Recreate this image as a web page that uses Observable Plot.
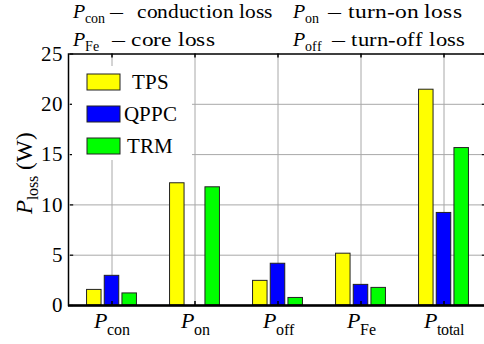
<!DOCTYPE html>
<html><head><meta charset="utf-8">
<script src="https://cdn.jsdelivr.net/npm/d3@7"></script>
<script src="https://cdn.jsdelivr.net/npm/@observablehq/plot@0.6"></script>
<style>
@font-face{font-family:"RefSerif";font-style:normal;font-weight:400;src:local("Liberation Serif"),local("LiberationSerif"),local("LiberationSerif-Regular"),local("Liberation Serif Regular"),local("DejaVu Serif"),local("DejaVuSerif")}
@font-face{font-family:"RefSerif";font-style:italic;font-weight:400;src:local("Liberation Serif Italic"),local("LiberationSerif-Italic"),local("DejaVu Serif Italic"),local("DejaVuSerif-Italic")}
html,body{margin:0;padding:0;background:#fff;overflow:hidden}
#wrap{width:484px;height:344px;overflow:hidden;position:relative;background:#fff}
#wrap svg{max-width:none !important;width:490px;height:344px}
#wrap svg text, #wrap svg tspan{font-family:"RefSerif","Liberation Serif","DejaVu Serif",serif !important}
</style></head><body><div id="wrap"></div>
<script>
// ---- data ----
const categories = ["con", "on", "off", "Fe", "total"];
const series = ["TPS", "QPPC", "TRM"];
const colors = ["#ffff00", "#0000ff", "#00ff00"];
const TPS  = [1.55, 12.15, 2.45, 5.15, 21.45];
const QPPC = [2.95, 0,     4.15, 2.05, 9.2];
const TRM  = [1.2,  11.75, 0.75, 1.75, 15.65];
const yTicks = [0, 5, 10, 15, 20, 25];
const yLabel = {main: "P", sub: "loss", unit: " (W)"};
const notes = [
  {sub: "con", text: "conduction loss"},
  {sub: "on", text: "turn-on loss"},
  {sub: "Fe", text: "core loss"},
  {sub: "off", text: "turn-off loss"}
];

// ---- layout ----
const W = 490, H = 344, mL = 68, mR = 3, mT = 53.5, mB = 39;
const bw = (W - mL - mR) / categories.length;
const innerH = H - mT - mB;
const barW = 15.3, step = 17.7;
const values = [TPS, QPPC, TRM];
const rows = series.map((s, k) => categories.map((c, i) => ({category: c, series: s, value: values[k][i]})));

const chart = Plot.plot({
  width: W, height: H,
  marginLeft: mL, marginRight: mR, marginTop: mT, marginBottom: mB,
  x: {type: "band", domain: categories, padding: 0},
  y: {domain: [0, 25]},
  marks: [
    Plot.gridY(yTicks.filter(t => t > 0 && t < 25), {stroke: "#a8a8a8", strokeOpacity: 1, strokeWidth: 1}),
    Plot.gridX(categories, {stroke: "#a8a8a8", strokeOpacity: 1, strokeWidth: 1}),
    ...rows.map((r, k) => {
      const c = bw / 2 + (k - 1) * step;
      return Plot.barY(r, {x: "category", y: "value", fill: colors[k], stroke: "#222", strokeWidth: 1,
        insetLeft: c - barW / 2, insetRight: bw - c - barW / 2});
    }),
    Plot.tickY(yTicks, {y: d => d, x: () => categories[0], insetRight: bw - 4, stroke: "#000", strokeWidth: 1.2}),
    Plot.tickY(yTicks, {y: d => d, x: () => categories[categories.length - 1], insetLeft: bw - 4, stroke: "#000", strokeWidth: 1.2}),
    Plot.tickX(categories, {x: d => d, insetTop: innerH - 4, stroke: "#000", strokeWidth: 1.5}),
    Plot.tickX(categories, {x: d => d, insetBottom: innerH - 4, stroke: "#000", strokeWidth: 1.5}),
    Plot.frame({stroke: "#000", strokeWidth: 1.5}),
    Plot.ruleY([0], {stroke: "#000", strokeWidth: 2.5}),
    Plot.axisY(yTicks, {tickSize: 0, tickPadding: 6, fontSize: 21, label: null, fill: "#000"}),
    Plot.axisX(categories, {tickSize: 0, tickPadding: 6.5, fontSize: 22, label: null, fill: "#000", tickFormat: d => d})
  ]
});
chart.style.background = "white";
document.getElementById("wrap").appendChild(chart);

const svg = d3.select(chart);

// category labels: italic P with subscript
svg.selectAll('g[aria-label="x-axis tick label"] text').each(function() {
  const t = d3.select(this);
  const s = t.text();
  t.text("");
  t.append("tspan").attr("font-style", "italic").text("P");
  t.append("tspan").attr("font-size", 16).attr("dy", 7).text(s);
});

// y label
const yl = svg.append("text")
  .attr("transform", "translate(32,173.4) rotate(-90)")
  .attr("text-anchor", "middle").attr("font-size", 23).attr("fill", "#000");
yl.append("tspan").attr("font-style", "italic").text(yLabel.main);
yl.append("tspan").attr("font-size", 16).attr("dy", 6).text(yLabel.sub);
yl.append("tspan").attr("dy", -6).text(yLabel.unit);

// top notes
const notePos = [
  {x: 73, y: 17.5, dash: 110, tx: 137, tw: 136},
  {x: 293, y: 17.5, dash: 328, tx: 348, tw: 114},
  {x: 73, y: 45.7, dash: 112, tx: 131, tw: 84},
  {x: 293, y: 45.7, dash: 332, tx: 351, tw: 114}
];
notes.forEach((n, i) => {
  const p = notePos[i];
  const g = svg.append("g").attr("font-size", 20).attr("fill", "#000").attr("text-anchor", "start");
  const t = g.append("text").attr("x", p.x).attr("y", p.y);
  t.append("tspan").attr("font-style", "italic").attr("font-size", 20).text("P");
  t.append("tspan").attr("font-size", 14).attr("dy", 5).text(n.sub);
  g.append("text").attr("x", p.dash).attr("y", p.y).attr("textLength", 13).attr("lengthAdjust", "spacingAndGlyphs").text("\u2014");
  g.append("text").attr("x", p.tx).attr("y", p.y).attr("textLength", p.tw).attr("lengthAdjust", "spacingAndGlyphs").text(n.text);
});

// legend
const lg = svg.append("g");
lg.append("rect").attr("x", 72).attr("y", 66).attr("width", 120).attr("height", 94).attr("fill", "#fff");
series.forEach((s, k) => {
  const y = 74 + k * 32;
  lg.append("rect").attr("x", 87).attr("y", y).attr("width", 33).attr("height", 16)
    .attr("fill", colors[k]).attr("stroke", "#222").attr("stroke-width", 1);
  lg.append("text").attr("x", 150).attr("y", y + 14.5).attr("text-anchor", "middle")
    .attr("font-size", 20.5).attr("fill", "#000").text(s);
});
</script></body></html>
